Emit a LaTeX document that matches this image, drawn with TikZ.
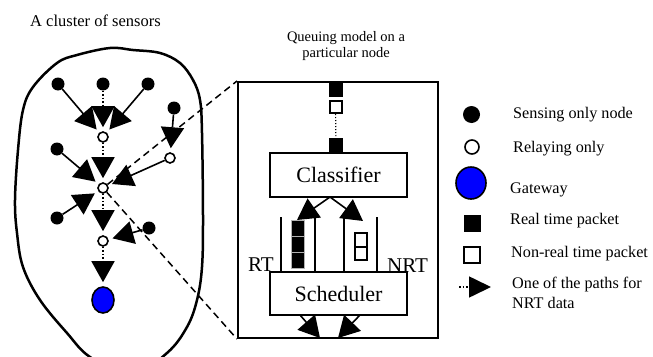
\documentclass[tikz,border=0pt]{standalone}
\usepackage{fontspec}
\setmainfont{Liberation Serif}
\usetikzlibrary{arrows.meta,shapes.geometric}

\tikzset{
  sensing/.style={circle, fill=black, inner sep=0pt, minimum size=13pt},
  relaying/.style={circle, draw=black, fill=white, line width=1.6pt, inner sep=0pt, minimum size=10pt},
  gateway/.style={ellipse, draw=black, fill=blue, line width=1.6pt, inner sep=0pt, minimum width=22pt, minimum height=26pt},
  flow/.style={line width=1.6pt, shorten >=4pt, -{Triangle[length=21pt,width=23pt]}},
  nrtflow/.style={flow, dash pattern=on 1.5pt off 2pt},
  zoomline/.style={line width=1.5pt, dash pattern=on 7pt off 4.5pt},
  block/.style={draw=black, line width=2pt, minimum width=137pt, inner sep=0pt, font=\fontsize{22}{24}\selectfont},
  rtpkt/.style={fill=black, inner sep=0pt, minimum width=14pt, minimum height=15pt},
  nrtpkt/.style={draw=black, fill=white, line width=2pt, inner sep=0pt, minimum width=12pt, minimum height=12pt},
  legend/.style={anchor=base west, inner sep=0pt, font=\fontsize{16.2}{19}\selectfont},
}

\begin{document}
\begin{tikzpicture}[x=1pt,y=-1pt]
\useasboundingbox (0,0) rectangle (653,356);

% cluster outline
\begin{scope}
\clip (0,0) rectangle (653,356);
\draw[line width=2.5pt] plot [smooth cycle, tension=0.6] coordinates {(15,200) (18,150) (23,110) (33,87) (57,63) (77,55) (110,48) (133,50) (160,53) (180,63) (193,80) (200,100) (202,133) (203,217) (202,267) (197,300) (187,327) (167,353) (130,376) (90,357) (67,333) (40,300) (23,267) (17,233)};
\end{scope}

\node[anchor=base west, inner sep=0pt, font=\fontsize{16.5}{19}\selectfont] (clustertitle) at (30,26) {A cluster of sensors};

% queuing box
\node[draw, line width=2pt, minimum width=200pt, minimum height=256pt, inner sep=0pt] (qbox) at (338,210) {};
\node[align=center, inner sep=0pt, font=\fontsize{14.5}{15.5}\selectfont] (qtitle) at (346,46) {Queuing model on a\\particular node};

% nodes of the cluster
\node[sensing] (s1) at (58,84) {};
\node[sensing] (s2) at (103,84) {};
\node[sensing] (s3) at (148,84) {};
\node[sensing] (s4) at (174,108) {};
\node[sensing] (s5) at (57,149) {};
\node[sensing] (s6) at (57,218) {};
\node[sensing] (s7) at (149,228) {};
\node[relaying] (r1) at (103,137) {};
\node[relaying] (r2) at (170,158) {};
\node[relaying] (r3) at (103,188) {};
\node[relaying] (r4) at (103,241) {};
\node[gateway] (g) at (103,300) {};

\draw[zoomline] (r3) -- (qbox.north west);
\draw[zoomline] (r3) -- (qbox.south west);

\draw[flow] (s1) -- (r1);
\draw[nrtflow] (s2) -- (r1);
\draw[flow] (s3) -- (r1);
\draw[flow] (s4) -- (r2);
\draw[nrtflow] (r1) -- (r3);
\draw[flow] (s5) -- (r3);
\draw[flow] (r2) -- (r3);
\draw[flow] (s6) -- (r3);
\draw[nrtflow] (r3) -- (r4);
\draw[flow] (s7) -- (r4);
\draw[nrtflow] (r4) -- (g);

% inside the queuing box
\node[rtpkt] (in1) at (335.5,89.5) {};
\node[nrtpkt] (in2) at (335.5,107) {};
\node[rtpkt] (in3) at (336,145.5) {};
\draw[line width=1.2pt, dash pattern=on 1.2pt off 1.8pt] (in2) -- (in3);

\node[block, minimum height=44pt] (classifier) at (338.5,175) {Classifier};
\node[block, minimum height=43pt] (scheduler) at (338.5,293.5) {Scheduler};

% RT queue
\draw[line width=1.6pt] (281,217) -- (281,272);
\draw[line width=1.6pt] (315,217) -- (315,272);
\foreach \y [count=\i] in {228,244,260}
  \node[rtpkt, minimum width=13pt, minimum height=16pt, draw=gray!60, line width=0.6pt] (rt\i) at (297.5,\y) {};
% NRT queue
\draw[line width=1.6pt] (344,217) -- (344,272);
\draw[line width=1.6pt] (377,217) -- (377,272);
\node[nrtpkt, minimum height=14pt] (nrt1) at (361,240) {};
\node[nrtpkt, minimum height=13pt] (nrt2) at (361,253.5) {};

\coordinate (split) at (330,197);
\coordinate (rtin) at (297,220);
\coordinate (nrtin) at (363,221);
\draw[flow, shorten >=0pt] (split) -- (rtin);
\draw[flow, shorten >=0pt] (split) -- (nrtin);

\node[anchor=base west, inner sep=0pt, font=\fontsize{21}{23}\selectfont] (rtlabel) at (248,271) {RT};
\node[anchor=base west, inner sep=0pt, font=\fontsize{21}{23}\selectfont] (nrtlabel) at (387,272) {NRT};

\coordinate (outLs) at (300,315);
\coordinate (outL) at (320,338);
\coordinate (outRs) at (360,315);
\coordinate (outR) at (338,338);
\draw[flow, shorten >=0pt] (outLs) -- (outL);
\draw[flow, shorten >=0pt] (outRs) -- (outR);

% legend
\node[sensing, minimum size=17pt] (lsense) at (471.5,114.5) {};
\node[relaying, minimum size=14pt] (lrelay) at (472,147) {};
\node[gateway, minimum width=30pt, minimum height=32pt] (lgate) at (471,183) {};
\node[rtpkt, minimum size=17pt] (lrt) at (472,223) {};
\node[nrtpkt, minimum size=16pt] (lnrt) at (472,254.5) {};
\coordinate (ltail) at (459,287);
\coordinate (lhead) at (491,287);
\draw[nrtflow, shorten >=0pt, -{Triangle[length=22pt,width=21pt]}] (ltail) -- (lhead);

\node[legend] (tsense) at (513,118) {Sensing only node};
\node[legend] (trelay) at (513,152) {Relaying only};
\node[legend] (tgate) at (510,193) {Gateway};
\node[legend] (trt) at (510,224) {Real time packet};
\node[legend] (tnrt) at (511,257) {Non-real time packet};
\node[legend] (tpath) at (512,288) {One of the paths for};
\node[legend] (tpath2) at (512,308) {NRT data};
\end{tikzpicture}
\end{document}
